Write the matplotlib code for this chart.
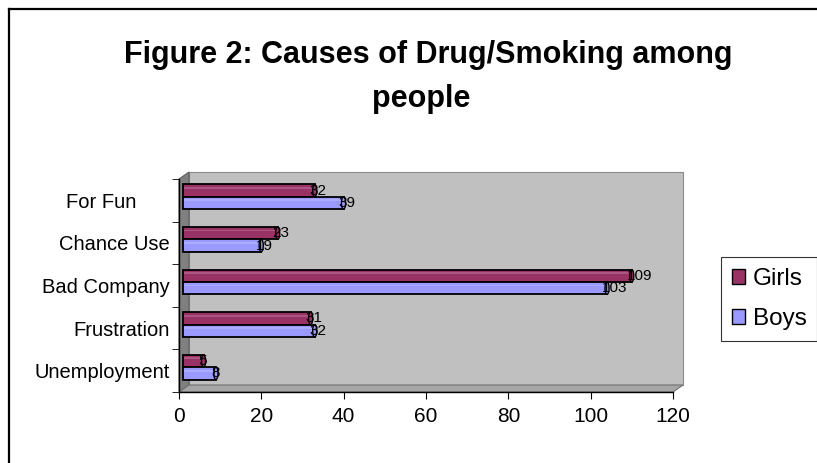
import matplotlib
matplotlib.use("Agg")
import matplotlib.pyplot as plt
from matplotlib.patches import Polygon, Ellipse, Patch
from matplotlib.lines import Line2D
from matplotlib.transforms import offset_copy

# causes listed bottom to top
causes = ["Unemployment", "Frustration", "Bad Company", "Chance Use", "For Fun      "]
girls = [5, 31, 109, 23, 32]
boys = [8, 32, 103, 19, 39]
x_ticks = [0, 20, 40, 60, 80, 100, 120]

girls_color = "#993366"
boys_color = "#9999ff"

plt.rcParams['font.family'] = ['Liberation Sans', 'DejaVu Sans']

W, H = 817, 463
fig = plt.figure(figsize=(W / 100, H / 100), dpi=100)
fig.patch.set_facecolor("white")

# chart frame (top and left edges)
fig.add_artist(Line2D([9 / W, 9 / W], [0, 1 - 9 / H], color="black", lw=1.6))
fig.add_artist(Line2D([9 / W, 1], [1 - 9 / H, 1 - 9 / H], color="black", lw=1.6))

fig.text(428 / W, 1 - 63 / H, "Figure 2: Causes of Drug/Smoking among",
         ha="center", va="baseline", fontsize=22, fontweight="bold")
fig.text(421 / W, 1 - 107 / H, "people",
         ha="center", va="baseline", fontsize=22, fontweight="bold")

ax = fig.add_axes([179 / W, 1 - 392 / H, (673 - 179) / W, (392 - 179) / H])
ax.set_xlim(0, 120)
ax.set_ylim(-0.5, 4.5)
ax.patch.set_visible(False)

# 3d box: back wall, side wall and floor
dx = 10 / 494
dy = 7 / 213
box = dict(transform=ax.transAxes, clip_on=False, zorder=0, lw=0.8)
ax.add_patch(Polygon([(dx, dy), (1 + dx, dy), (1 + dx, 1 + dy), (dx, 1 + dy)],
                     facecolor="#c0c0c0", edgecolor="#8a8a8a", **box))
ax.add_patch(Polygon([(0, 0), (dx, dy), (dx, 1 + dy), (0, 1)],
                     facecolor="#808080", edgecolor="#606060", **box))
ax.add_patch(Polygon([(0, 0), (1, 0), (1 + dx, dy), (dx, dy)],
                     facecolor="#a6a6a6", edgecolor="#707070", **box))

bar_tr = offset_copy(ax.transData, fig=fig, x=4, y=3.5, units="dots")
lab_tr = offset_copy(ax.transData, fig=fig, x=-1, y=3.5, units="dots")
h = 0.29
ypos = list(range(len(causes)))

for vals, color, off in [(girls, girls_color, h / 2), (boys, boys_color, -h / 2)]:
    for y, v in zip(ypos, vals):
        yc = y + off
        ax.barh(yc, v, height=h, color=color, edgecolor="black", lw=1.3,
                transform=bar_tr, clip_on=False, zorder=3)
        # lighter band on top of the cylinder
        ax.barh(yc + h * 0.22, v - 0.6, left=0.3, height=h * 0.14, color="white",
                alpha=0.18, lw=0, transform=bar_tr, clip_on=False, zorder=4)
        ax.add_patch(Ellipse((v, yc), 1.0, h, facecolor=color, edgecolor="black",
                             lw=1.0, transform=bar_tr, clip_on=False, zorder=5))
        ax.text(v, yc, str(v), transform=lab_tr, ha="left", va="center",
                fontsize=11, zorder=6)

ax.set_yticks(ypos, causes)
ax.set_yticks([y - 0.5 for y in range(len(causes) + 1)], minor=True)
ax.tick_params(axis="y", which="major", length=0, labelsize=14.5, pad=6.5)
ax.tick_params(axis="y", which="minor", length=5, direction="out")
ax.set_xticks(x_ticks)
ax.tick_params(axis="x", length=5, direction="out", labelsize=15, pad=6)

for side in ["top", "right"]:
    ax.spines[side].set_visible(False)
for side in ["left", "bottom"]:
    ax.spines[side].set_color("black")
    ax.spines[side].set_linewidth(1.0)

handles = [Patch(facecolor=girls_color, edgecolor="black", lw=1),
           Patch(facecolor=boys_color, edgecolor="black", lw=1)]
leg = fig.legend(handles, ["Girls", "Boys"], loc="upper left",
                 bbox_to_anchor=(721 / W, 1 - 257 / H), fontsize=17.5,
                 frameon=True, fancybox=False, edgecolor="black",
                 handlelength=0.55, handleheight=0.55, handletextpad=0.3,
                 labelspacing=0.75, borderpad=0.45, borderaxespad=0)
leg.get_frame().set_linewidth(0.8)

fig.savefig("out.png", dpi=100)
